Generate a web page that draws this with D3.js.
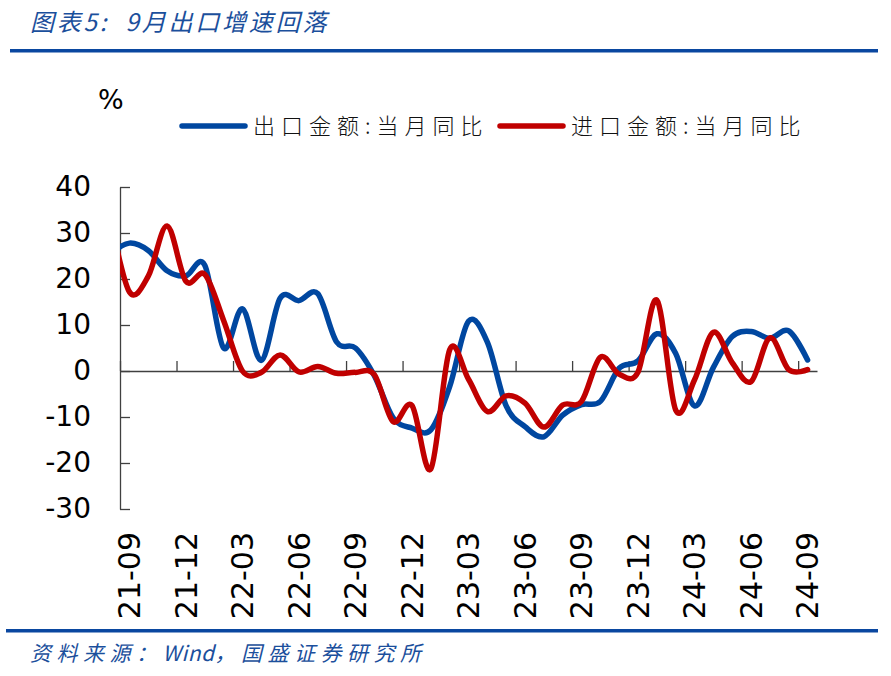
<!DOCTYPE html>
<html><head><meta charset="utf-8">
<script src="https://cdn.jsdelivr.net/npm/d3@7/dist/d3.min.js"></script>
<style>body{margin:0;background:#fff}</style>
</head><body>
<svg id="c" width="891" height="676"></svg>
<script>
// ---- data ----
const months = ["21-08","21-09","21-10","21-11","21-12","22-01","22-02","22-03","22-04","22-05","22-06","22-07","22-08","22-09","22-10","22-11","22-12","23-01","23-02","23-03","23-04","23-05","23-06","23-07","23-08","23-09","23-10","23-11","23-12","24-01","24-02","24-03","24-04","24-05","24-06","24-07","24-08","24-09"];
const exportYoY = [25.5,27.8,26.2,21.8,20.7,23.0,5.0,13.5,2.3,15.8,15.3,16.8,6.3,5.0,-1.0,-10.2,-12.4,-12.8,-3.4,10.8,6.3,-7.6,-12.1,-14.3,-9.6,-7.3,-6.6,0.6,2.2,8.1,3.8,-7.6,0.8,7.5,8.6,7.1,8.7,2.4];
const importYoY = [33.0,17.2,20.6,31.5,19.5,21.0,11.0,0.0,-0.3,3.5,-0.2,1.0,-0.5,-0.3,-0.8,-11.0,-7.5,-21.3,4.6,-1.8,-8.8,-5.4,-7.0,-12.2,-7.4,-6.6,3.0,-0.7,-0.2,15.4,-8.5,-1.9,8.4,1.8,-2.3,7.2,0.3,0.3];
const yTicks = [-30,-20,-10,0,10,20,30,40];
const xLabelMonths = ["21-09","21-12","22-03","22-06","22-09","22-12","23-03","23-06","23-09","23-12","24-03","24-06","24-09"];
const seriesNames = ["出口金额:当月同比","进口金额:当月同比"];
const seriesColors = ["#0047A0","#C00000"];
const titleText = "图表5:  9月出口增速回落";
const sourceText = "资料来源：Wind，国盛证券研究所";
const unitText = "%";

// ---- layout ----
const svg = d3.select("#c");
const plot = {left:120, right:817, top:187, bottom:509};
const idx = m => months.indexOf(m) - 1;            // 21-09 -> 0
const x = d3.scaleLinear().domain([-0.5, 36.5]).range([plot.left, plot.right]);
const y = d3.scaleLinear().domain([-30, 40]).range([plot.bottom, plot.top]);
const blue = "#0A47A0";

// header
svg.append("text").attr("x",30).attr("y",31).style("white-space","pre")
  .attr("font-family","'Noto Sans CJK SC',sans-serif").attr("font-style","italic")
  .attr("font-size",24).attr("letter-spacing",2.8).attr("fill","#1B4F9C").text(titleText);
svg.append("rect").attr("x",10).attr("y",49).attr("width",868).attr("height",3.5).attr("fill",blue);
svg.append("rect").attr("x",6).attr("y",629).attr("width",872).attr("height",3.5).attr("fill",blue);
const src = svg.append("text").attr("x",30).attr("y",661)
  .attr("font-family","'Noto Sans CJK SC',sans-serif").attr("font-style","italic")
  .attr("font-size",21).attr("fill","#1B4F9C");
sourceText.split(/(Wind)/).forEach(part=>{
  src.append("tspan").attr("letter-spacing", part === "Wind" ? 0.5 : 5.5).text(part);
});

// unit
svg.append("text").attr("x",98).attr("y",109).attr("font-family","DejaVu Sans")
  .attr("font-size",27).attr("fill","#000").text(unitText);

// legend
const legX = [182, 500];
seriesNames.forEach((n,i)=>{
  svg.append("line").attr("x1",legX[i]).attr("x2",legX[i]+63).attr("y1",126).attr("y2",126)
    .attr("stroke",seriesColors[i]).attr("stroke-width",5.5).attr("stroke-linecap","round");
  svg.append("text").attr("x",legX[i]+71).attr("y",134)
    .attr("font-family","'Noto Sans CJK SC',sans-serif").attr("font-size",22).attr("font-weight",300)
    .attr("letter-spacing",6).attr("fill","#111").text(n);
});

// y axis
const yAxis = d3.axisLeft(y).tickValues(yTicks).tickSize(-10).tickSizeOuter(0).tickPadding(29)
  .tickFormat(d => String(d));
const gy = svg.append("g").attr("transform",`translate(${plot.left},0)`).call(yAxis);
gy.selectAll("path,line").attr("stroke","#404040").attr("stroke-width",1.3);
gy.selectAll("text").attr("font-family","DejaVu Sans").attr("font-size",28).attr("fill","#000");

// x axis at zero
const tickIdx = d3.range(13).map(k => -0.5 + 3*k);
const xAxis = d3.axisBottom(x).tickValues(tickIdx).tickSize(-10).tickSizeOuter(0).tickFormat("");
const gx = svg.append("g").attr("transform",`translate(0,${y(0)})`).call(xAxis);
gx.selectAll("path,line").attr("stroke","#404040").attr("stroke-width",1.3);

// x labels (rotated)
svg.append("g").selectAll("text").data(xLabelMonths).join("text")
  .attr("transform", d => `translate(${x(idx(d))},532) rotate(-90)`)
  .attr("text-anchor","end").attr("dy","0.36em")
  .attr("font-family","DejaVu Sans").attr("font-size",30)
  .attr("fill","#000").text(d=>d);

// lines
svg.append("clipPath").attr("id","clip").append("rect")
  .attr("x",plot.left).attr("y",0).attr("width",plot.right-plot.left+10).attr("height",676);
const line = d3.line().x((d,i)=>x(i-1)).y(d=>y(d)).curve(d3.curveCardinal.tension(0));
const g = svg.append("g").attr("clip-path","url(#clip)");
[exportYoY, importYoY].forEach((s,i)=>{
  g.append("path").attr("d",line(s)).attr("fill","none")
    .attr("stroke",seriesColors[i]).attr("stroke-width",5.5)
    .attr("stroke-linejoin","round").attr("stroke-linecap","round");
});
</script>
</body></html>
